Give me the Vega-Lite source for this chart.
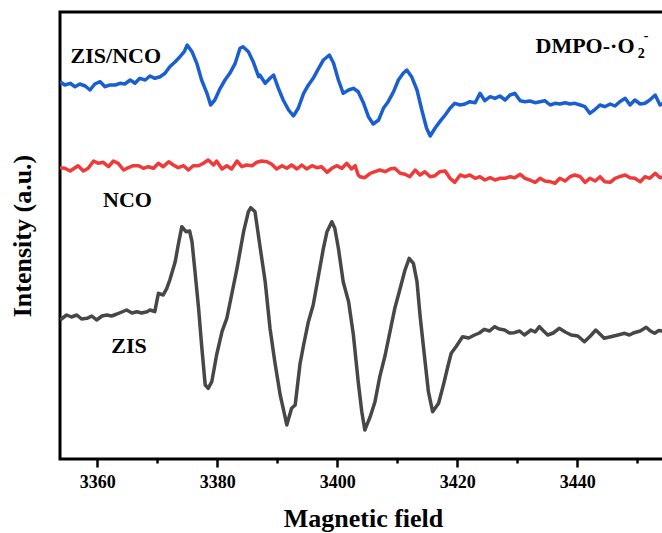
{
  "$schema": "https://vega.github.io/schema/vega-lite/v6.json",
  "width": 606,
  "height": 447,
  "autosize": {"type": "none"},
  "padding": {"left": 60, "top": 12, "right": 0, "bottom": 74},
  "config": {"view": {"stroke": "#000", "strokeWidth": 3}, "font": "Liberation Serif"},
  "datasets": {
    "curves": [
      {"sample":"ZIS/NCO","field":3353.8,"intensity":376.3},{"sample":"ZIS/NCO","field":3354.6,"intensity":373},{"sample":"ZIS/NCO","field":3355.5,"intensity":374.7},{"sample":"ZIS/NCO","field":3356.3,"intensity":371.3},{"sample":"ZIS/NCO","field":3357.1,"intensity":374},{"sample":"ZIS/NCO","field":3358.0,"intensity":372},{"sample":"ZIS/NCO","field":3358.8,"intensity":368},{"sample":"ZIS/NCO","field":3359.6,"intensity":374},{"sample":"ZIS/NCO","field":3360.5,"intensity":376.3},{"sample":"ZIS/NCO","field":3361.3,"intensity":371.3},{"sample":"ZIS/NCO","field":3362.1,"intensity":373},{"sample":"ZIS/NCO","field":3363.0,"intensity":373},{"sample":"ZIS/NCO","field":3363.8,"intensity":374.7},{"sample":"ZIS/NCO","field":3364.6,"intensity":374},{"sample":"ZIS/NCO","field":3365.5,"intensity":378},{"sample":"ZIS/NCO","field":3366.3,"intensity":374.7},{"sample":"ZIS/NCO","field":3367.1,"intensity":379.7},{"sample":"ZIS/NCO","field":3368.0,"intensity":378},{"sample":"ZIS/NCO","field":3368.8,"intensity":382},{"sample":"ZIS/NCO","field":3369.6,"intensity":379.7},{"sample":"ZIS/NCO","field":3370.5,"intensity":381.3},{"sample":"ZIS/NCO","field":3371.3,"intensity":384.7},{"sample":"ZIS/NCO","field":3372.1,"intensity":391.3},{"sample":"ZIS/NCO","field":3373.0,"intensity":396.3},{"sample":"ZIS/NCO","field":3373.8,"intensity":401.3},{"sample":"ZIS/NCO","field":3374.5,"intensity":406.3},{"sample":"ZIS/NCO","field":3375.0,"intensity":413},{"sample":"ZIS/NCO","field":3375.8,"intensity":406.3},{"sample":"ZIS/NCO","field":3376.6,"intensity":394.7},{"sample":"ZIS/NCO","field":3377.4,"intensity":378},{"sample":"ZIS/NCO","field":3378.3,"intensity":364.7},{"sample":"ZIS/NCO","field":3378.9,"intensity":353},{"sample":"ZIS/NCO","field":3379.6,"intensity":358},{"sample":"ZIS/NCO","field":3380.5,"intensity":369.7},{"sample":"ZIS/NCO","field":3381.3,"intensity":378},{"sample":"ZIS/NCO","field":3382.1,"intensity":384.7},{"sample":"ZIS/NCO","field":3383.0,"intensity":394.7},{"sample":"ZIS/NCO","field":3383.8,"intensity":409.7},{"sample":"ZIS/NCO","field":3384.3,"intensity":411.3},{"sample":"ZIS/NCO","field":3385.2,"intensity":406.3},{"sample":"ZIS/NCO","field":3386.0,"intensity":396.3},{"sample":"ZIS/NCO","field":3386.9,"intensity":381.3},{"sample":"ZIS/NCO","field":3387.1,"intensity":383},{"sample":"ZIS/NCO","field":3388.0,"intensity":374.7},{"sample":"ZIS/NCO","field":3388.8,"intensity":379.7},{"sample":"ZIS/NCO","field":3389.4,"intensity":383},{"sample":"ZIS/NCO","field":3390.2,"intensity":369.7},{"sample":"ZIS/NCO","field":3391.0,"intensity":358},{"sample":"ZIS/NCO","field":3391.9,"intensity":348},{"sample":"ZIS/NCO","field":3392.7,"intensity":342},{"sample":"ZIS/NCO","field":3393.5,"intensity":349.7},{"sample":"ZIS/NCO","field":3394.4,"intensity":364.7},{"sample":"ZIS/NCO","field":3395.2,"intensity":373},{"sample":"ZIS/NCO","field":3396.0,"intensity":379.7},{"sample":"ZIS/NCO","field":3396.9,"intensity":389.7},{"sample":"ZIS/NCO","field":3397.7,"intensity":398},{"sample":"ZIS/NCO","field":3398.7,"intensity":403},{"sample":"ZIS/NCO","field":3399.4,"intensity":394.7},{"sample":"ZIS/NCO","field":3400.2,"intensity":378},{"sample":"ZIS/NCO","field":3401.0,"intensity":364.7},{"sample":"ZIS/NCO","field":3401.9,"intensity":368},{"sample":"ZIS/NCO","field":3402.7,"intensity":369.7},{"sample":"ZIS/NCO","field":3403.5,"intensity":366.3},{"sample":"ZIS/NCO","field":3404.4,"intensity":354.7},{"sample":"ZIS/NCO","field":3405.2,"intensity":341.3},{"sample":"ZIS/NCO","field":3406.0,"intensity":334},{"sample":"ZIS/NCO","field":3406.9,"intensity":338},{"sample":"ZIS/NCO","field":3407.7,"intensity":349.7},{"sample":"ZIS/NCO","field":3408.5,"intensity":356.3},{"sample":"ZIS/NCO","field":3409.4,"intensity":366.3},{"sample":"ZIS/NCO","field":3410.2,"intensity":378},{"sample":"ZIS/NCO","field":3411.0,"intensity":384.7},{"sample":"ZIS/NCO","field":3411.6,"intensity":388},{"sample":"ZIS/NCO","field":3412.4,"intensity":381.3},{"sample":"ZIS/NCO","field":3413.3,"intensity":368},{"sample":"ZIS/NCO","field":3414.1,"intensity":348},{"sample":"ZIS/NCO","field":3414.9,"intensity":329.7},{"sample":"ZIS/NCO","field":3415.5,"intensity":322},{"sample":"ZIS/NCO","field":3416.3,"intensity":329.7},{"sample":"ZIS/NCO","field":3417.1,"intensity":336.3},{"sample":"ZIS/NCO","field":3418.0,"intensity":343},{"sample":"ZIS/NCO","field":3418.8,"intensity":349.7},{"sample":"ZIS/NCO","field":3419.6,"intensity":354.7},{"sample":"ZIS/NCO","field":3420.5,"intensity":353},{"sample":"ZIS/NCO","field":3421.3,"intensity":354},{"sample":"ZIS/NCO","field":3422.1,"intensity":356.3},{"sample":"ZIS/NCO","field":3423.0,"intensity":355.3},{"sample":"ZIS/NCO","field":3423.8,"intensity":364.7},{"sample":"ZIS/NCO","field":3424.6,"intensity":357.3},{"sample":"ZIS/NCO","field":3425.5,"intensity":361.3},{"sample":"ZIS/NCO","field":3426.3,"intensity":359.7},{"sample":"ZIS/NCO","field":3427.1,"intensity":362},{"sample":"ZIS/NCO","field":3428.0,"intensity":358},{"sample":"ZIS/NCO","field":3428.8,"intensity":363},{"sample":"ZIS/NCO","field":3429.6,"intensity":364.7},{"sample":"ZIS/NCO","field":3430.5,"intensity":357.3},{"sample":"ZIS/NCO","field":3431.3,"intensity":356.3},{"sample":"ZIS/NCO","field":3432.1,"intensity":357},{"sample":"ZIS/NCO","field":3433.0,"intensity":355.3},{"sample":"ZIS/NCO","field":3433.8,"intensity":356.3},{"sample":"ZIS/NCO","field":3434.6,"intensity":357.3},{"sample":"ZIS/NCO","field":3435.5,"intensity":353},{"sample":"ZIS/NCO","field":3436.3,"intensity":354.7},{"sample":"ZIS/NCO","field":3437.1,"intensity":354},{"sample":"ZIS/NCO","field":3438.0,"intensity":355.3},{"sample":"ZIS/NCO","field":3438.8,"intensity":354},{"sample":"ZIS/NCO","field":3439.6,"intensity":354.7},{"sample":"ZIS/NCO","field":3440.5,"intensity":353},{"sample":"ZIS/NCO","field":3441.3,"intensity":351.3},{"sample":"ZIS/NCO","field":3442.1,"intensity":344.7},{"sample":"ZIS/NCO","field":3443.0,"intensity":348.7},{"sample":"ZIS/NCO","field":3443.8,"intensity":353},{"sample":"ZIS/NCO","field":3444.6,"intensity":351.3},{"sample":"ZIS/NCO","field":3445.5,"intensity":354},{"sample":"ZIS/NCO","field":3446.3,"intensity":352},{"sample":"ZIS/NCO","field":3447.1,"intensity":356.3},{"sample":"ZIS/NCO","field":3448.0,"intensity":359.7},{"sample":"ZIS/NCO","field":3448.8,"intensity":353},{"sample":"ZIS/NCO","field":3449.6,"intensity":358},{"sample":"ZIS/NCO","field":3450.5,"intensity":354},{"sample":"ZIS/NCO","field":3451.3,"intensity":354.7},{"sample":"ZIS/NCO","field":3452.1,"intensity":358},{"sample":"ZIS/NCO","field":3453.0,"intensity":363},{"sample":"ZIS/NCO","field":3453.8,"intensity":353},{"sample":"ZIS/NCO","field":3454.8,"intensity":356},
      {"sample":"NCO","field":3353.8,"intensity":290.3},{"sample":"NCO","field":3354.6,"intensity":289.7},{"sample":"NCO","field":3355.5,"intensity":287},{"sample":"NCO","field":3356.3,"intensity":290.3},{"sample":"NCO","field":3356.8,"intensity":292.3},{"sample":"NCO","field":3357.7,"intensity":287},{"sample":"NCO","field":3358.5,"intensity":289.7},{"sample":"NCO","field":3359.4,"intensity":297},{"sample":"NCO","field":3360.2,"intensity":294.7},{"sample":"NCO","field":3361.0,"intensity":295.7},{"sample":"NCO","field":3361.9,"intensity":291.3},{"sample":"NCO","field":3362.7,"intensity":297},{"sample":"NCO","field":3363.5,"intensity":294.7},{"sample":"NCO","field":3364.4,"intensity":288},{"sample":"NCO","field":3365.2,"intensity":290.3},{"sample":"NCO","field":3366.0,"intensity":292.3},{"sample":"NCO","field":3366.9,"intensity":292.3},{"sample":"NCO","field":3367.7,"intensity":289.7},{"sample":"NCO","field":3368.5,"intensity":291.3},{"sample":"NCO","field":3369.4,"intensity":289.7},{"sample":"NCO","field":3370.2,"intensity":294.7},{"sample":"NCO","field":3371.0,"intensity":291.3},{"sample":"NCO","field":3371.9,"intensity":296.3},{"sample":"NCO","field":3372.7,"intensity":293},{"sample":"NCO","field":3373.5,"intensity":290.3},{"sample":"NCO","field":3374.4,"intensity":292.3},{"sample":"NCO","field":3375.2,"intensity":288},{"sample":"NCO","field":3376.0,"intensity":292.3},{"sample":"NCO","field":3376.9,"intensity":292.3},{"sample":"NCO","field":3377.7,"intensity":294.7},{"sample":"NCO","field":3378.5,"intensity":298},{"sample":"NCO","field":3379.4,"intensity":293},{"sample":"NCO","field":3379.9,"intensity":297},{"sample":"NCO","field":3380.8,"intensity":289},{"sample":"NCO","field":3381.6,"intensity":292.3},{"sample":"NCO","field":3382.4,"intensity":289},{"sample":"NCO","field":3383.3,"intensity":297},{"sample":"NCO","field":3384.1,"intensity":291.3},{"sample":"NCO","field":3384.9,"intensity":293},{"sample":"NCO","field":3385.8,"intensity":292.3},{"sample":"NCO","field":3386.6,"intensity":295.7},{"sample":"NCO","field":3387.4,"intensity":297},{"sample":"NCO","field":3388.3,"intensity":296.3},{"sample":"NCO","field":3389.1,"intensity":293.7},{"sample":"NCO","field":3389.9,"intensity":289},{"sample":"NCO","field":3390.8,"intensity":292.3},{"sample":"NCO","field":3391.6,"intensity":289.7},{"sample":"NCO","field":3392.4,"intensity":293},{"sample":"NCO","field":3393.3,"intensity":289},{"sample":"NCO","field":3394.1,"intensity":293},{"sample":"NCO","field":3394.9,"intensity":289},{"sample":"NCO","field":3395.8,"intensity":292.3},{"sample":"NCO","field":3396.6,"intensity":290.3},{"sample":"NCO","field":3397.4,"intensity":291.3},{"sample":"NCO","field":3398.3,"intensity":285.7},{"sample":"NCO","field":3399.1,"intensity":289.7},{"sample":"NCO","field":3399.9,"intensity":292.3},{"sample":"NCO","field":3400.8,"intensity":289.7},{"sample":"NCO","field":3401.6,"intensity":294.7},{"sample":"NCO","field":3402.4,"intensity":289},{"sample":"NCO","field":3403.0,"intensity":292.3},{"sample":"NCO","field":3403.5,"intensity":283},{"sample":"NCO","field":3403.8,"intensity":281.3},{"sample":"NCO","field":3404.6,"intensity":280.3},{"sample":"NCO","field":3405.5,"intensity":284.7},{"sample":"NCO","field":3406.3,"intensity":286.3},{"sample":"NCO","field":3407.1,"intensity":288},{"sample":"NCO","field":3408.0,"intensity":286.3},{"sample":"NCO","field":3408.8,"intensity":289},{"sample":"NCO","field":3409.6,"intensity":289.7},{"sample":"NCO","field":3410.5,"intensity":284.7},{"sample":"NCO","field":3411.3,"intensity":283.7},{"sample":"NCO","field":3412.1,"intensity":281.3},{"sample":"NCO","field":3413.0,"intensity":288},{"sample":"NCO","field":3413.8,"intensity":283},{"sample":"NCO","field":3414.6,"intensity":286.3},{"sample":"NCO","field":3415.5,"intensity":281.3},{"sample":"NCO","field":3416.3,"intensity":282.3},{"sample":"NCO","field":3417.1,"intensity":286.3},{"sample":"NCO","field":3418.0,"intensity":287},{"sample":"NCO","field":3418.8,"intensity":279.7},{"sample":"NCO","field":3419.6,"intensity":275.7},{"sample":"NCO","field":3420.5,"intensity":283},{"sample":"NCO","field":3421.3,"intensity":281.3},{"sample":"NCO","field":3422.1,"intensity":283},{"sample":"NCO","field":3423.0,"intensity":279.7},{"sample":"NCO","field":3423.8,"intensity":281.3},{"sample":"NCO","field":3424.6,"intensity":278},{"sample":"NCO","field":3425.5,"intensity":280.3},{"sample":"NCO","field":3426.3,"intensity":278},{"sample":"NCO","field":3427.1,"intensity":279.7},{"sample":"NCO","field":3428.0,"intensity":279.7},{"sample":"NCO","field":3428.8,"intensity":281.3},{"sample":"NCO","field":3429.6,"intensity":280.3},{"sample":"NCO","field":3430.5,"intensity":283.7},{"sample":"NCO","field":3431.3,"intensity":279.7},{"sample":"NCO","field":3432.1,"intensity":278},{"sample":"NCO","field":3433.0,"intensity":275.7},{"sample":"NCO","field":3433.8,"intensity":279.7},{"sample":"NCO","field":3434.6,"intensity":277},{"sample":"NCO","field":3435.5,"intensity":276.3},{"sample":"NCO","field":3436.3,"intensity":274.7},{"sample":"NCO","field":3437.1,"intensity":279.7},{"sample":"NCO","field":3438.0,"intensity":277},{"sample":"NCO","field":3438.8,"intensity":281.3},{"sample":"NCO","field":3439.6,"intensity":283},{"sample":"NCO","field":3440.5,"intensity":281.3},{"sample":"NCO","field":3441.3,"intensity":275.7},{"sample":"NCO","field":3442.1,"intensity":279.7},{"sample":"NCO","field":3443.0,"intensity":277},{"sample":"NCO","field":3443.8,"intensity":281.3},{"sample":"NCO","field":3444.6,"intensity":276.3},{"sample":"NCO","field":3445.5,"intensity":275.7},{"sample":"NCO","field":3446.3,"intensity":279.7},{"sample":"NCO","field":3447.1,"intensity":281.3},{"sample":"NCO","field":3448.0,"intensity":283},{"sample":"NCO","field":3448.8,"intensity":280.3},{"sample":"NCO","field":3449.6,"intensity":279.7},{"sample":"NCO","field":3450.5,"intensity":276.3},{"sample":"NCO","field":3451.3,"intensity":281.3},{"sample":"NCO","field":3452.1,"intensity":279.7},{"sample":"NCO","field":3453.0,"intensity":284.7},{"sample":"NCO","field":3453.8,"intensity":280.3},{"sample":"NCO","field":3454.8,"intensity":282},
      {"sample":"ZIS","field":3353.8,"intensity":138},{"sample":"ZIS","field":3354.9,"intensity":143},{"sample":"ZIS","field":3355.7,"intensity":141},{"sample":"ZIS","field":3356.6,"intensity":143},{"sample":"ZIS","field":3357.4,"intensity":139},{"sample":"ZIS","field":3358.3,"intensity":139.7},{"sample":"ZIS","field":3359.1,"intensity":142},{"sample":"ZIS","field":3359.9,"intensity":138},{"sample":"ZIS","field":3360.8,"intensity":142},{"sample":"ZIS","field":3361.6,"intensity":143},{"sample":"ZIS","field":3362.4,"intensity":142},{"sample":"ZIS","field":3363.3,"intensity":144},{"sample":"ZIS","field":3364.1,"intensity":146},{"sample":"ZIS","field":3364.9,"intensity":148},{"sample":"ZIS","field":3365.8,"intensity":145},{"sample":"ZIS","field":3366.6,"intensity":146.3},{"sample":"ZIS","field":3367.4,"intensity":145},{"sample":"ZIS","field":3368.3,"intensity":146.3},{"sample":"ZIS","field":3368.8,"intensity":148},{"sample":"ZIS","field":3369.6,"intensity":146.3},{"sample":"ZIS","field":3370.2,"intensity":164.7},{"sample":"ZIS","field":3371.0,"intensity":163},{"sample":"ZIS","field":3371.6,"intensity":169.7},{"sample":"ZIS","field":3372.1,"intensity":178},{"sample":"ZIS","field":3373.0,"intensity":196.3},{"sample":"ZIS","field":3373.5,"intensity":213},{"sample":"ZIS","field":3374.1,"intensity":231.3},{"sample":"ZIS","field":3374.8,"intensity":226.3},{"sample":"ZIS","field":3375.4,"intensity":227},{"sample":"ZIS","field":3375.8,"intensity":216.3},{"sample":"ZIS","field":3376.3,"intensity":186.3},{"sample":"ZIS","field":3376.9,"intensity":149.7},{"sample":"ZIS","field":3377.4,"intensity":113},{"sample":"ZIS","field":3378.0,"intensity":73},{"sample":"ZIS","field":3378.5,"intensity":69.7},{"sample":"ZIS","field":3379.1,"intensity":76.3},{"sample":"ZIS","field":3379.9,"intensity":103},{"sample":"ZIS","field":3380.8,"intensity":126.3},{"sample":"ZIS","field":3381.6,"intensity":139.7},{"sample":"ZIS","field":3382.4,"intensity":163},{"sample":"ZIS","field":3383.3,"intensity":189.7},{"sample":"ZIS","field":3383.8,"intensity":206.3},{"sample":"ZIS","field":3384.4,"intensity":226.3},{"sample":"ZIS","field":3385.2,"intensity":246.3},{"sample":"ZIS","field":3385.6,"intensity":250.3},{"sample":"ZIS","field":3386.3,"intensity":246.3},{"sample":"ZIS","field":3387.1,"intensity":213},{"sample":"ZIS","field":3388.0,"intensity":176.3},{"sample":"ZIS","field":3388.8,"intensity":129.7},{"sample":"ZIS","field":3389.6,"intensity":96.3},{"sample":"ZIS","field":3390.5,"intensity":63},{"sample":"ZIS","field":3391.0,"intensity":49.7},{"sample":"ZIS","field":3391.6,"intensity":33},{"sample":"ZIS","field":3392.4,"intensity":49.7},{"sample":"ZIS","field":3393.0,"intensity":53},{"sample":"ZIS","field":3393.8,"intensity":94},{"sample":"ZIS","field":3394.4,"intensity":113},{"sample":"ZIS","field":3395.2,"intensity":136.3},{"sample":"ZIS","field":3396.0,"intensity":153},{"sample":"ZIS","field":3396.9,"intensity":183},{"sample":"ZIS","field":3397.7,"intensity":209.7},{"sample":"ZIS","field":3398.3,"intensity":226.3},{"sample":"ZIS","field":3399.1,"intensity":236.3},{"sample":"ZIS","field":3399.6,"intensity":229.7},{"sample":"ZIS","field":3400.2,"intensity":209.7},{"sample":"ZIS","field":3401.0,"intensity":176.3},{"sample":"ZIS","field":3401.9,"intensity":156.3},{"sample":"ZIS","field":3402.7,"intensity":123},{"sample":"ZIS","field":3403.5,"intensity":76.3},{"sample":"ZIS","field":3404.1,"intensity":46.3},{"sample":"ZIS","field":3404.6,"intensity":28},{"sample":"ZIS","field":3405.5,"intensity":41.3},{"sample":"ZIS","field":3406.3,"intensity":56.3},{"sample":"ZIS","field":3407.1,"intensity":81.3},{"sample":"ZIS","field":3408.0,"intensity":103},{"sample":"ZIS","field":3408.8,"intensity":126.3},{"sample":"ZIS","field":3409.6,"intensity":149.7},{"sample":"ZIS","field":3410.5,"intensity":169.7},{"sample":"ZIS","field":3411.3,"intensity":188},{"sample":"ZIS","field":3412.0,"intensity":199.7},{"sample":"ZIS","field":3412.7,"intensity":194.7},{"sample":"ZIS","field":3413.3,"intensity":176.3},{"sample":"ZIS","field":3413.8,"intensity":143},{"sample":"ZIS","field":3414.4,"intensity":109.7},{"sample":"ZIS","field":3415.2,"intensity":66.3},{"sample":"ZIS","field":3415.9,"intensity":46.3},{"sample":"ZIS","field":3416.9,"intensity":54.7},{"sample":"ZIS","field":3417.7,"intensity":73},{"sample":"ZIS","field":3418.5,"intensity":93},{"sample":"ZIS","field":3419.0,"intensity":104.7},{"sample":"ZIS","field":3419.8,"intensity":111.3},{"sample":"ZIS","field":3420.9,"intensity":121.3},{"sample":"ZIS","field":3421.9,"intensity":120},{"sample":"ZIS","field":3422.9,"intensity":123},{"sample":"ZIS","field":3423.7,"intensity":125},{"sample":"ZIS","field":3424.5,"intensity":128.7},{"sample":"ZIS","field":3425.4,"intensity":127},{"sample":"ZIS","field":3426.2,"intensity":131.3},{"sample":"ZIS","field":3427.0,"intensity":129},{"sample":"ZIS","field":3427.9,"intensity":128},{"sample":"ZIS","field":3428.7,"intensity":125},{"sample":"ZIS","field":3429.5,"intensity":125.3},{"sample":"ZIS","field":3430.4,"intensity":127},{"sample":"ZIS","field":3431.2,"intensity":123},{"sample":"ZIS","field":3432.3,"intensity":128},{"sample":"ZIS","field":3433.0,"intensity":126},{"sample":"ZIS","field":3433.7,"intensity":131.3},{"sample":"ZIS","field":3434.4,"intensity":127},{"sample":"ZIS","field":3435.1,"intensity":123},{"sample":"ZIS","field":3436.0,"intensity":125},{"sample":"ZIS","field":3437.0,"intensity":129.7},{"sample":"ZIS","field":3438.0,"intensity":126},{"sample":"ZIS","field":3439.0,"intensity":123},{"sample":"ZIS","field":3440.1,"intensity":122},{"sample":"ZIS","field":3441.2,"intensity":116.3},{"sample":"ZIS","field":3442.2,"intensity":122},{"sample":"ZIS","field":3443.1,"intensity":128},{"sample":"ZIS","field":3444.5,"intensity":119.7},{"sample":"ZIS","field":3445.6,"intensity":121.3},{"sample":"ZIS","field":3446.8,"intensity":123},{"sample":"ZIS","field":3447.9,"intensity":124.7},{"sample":"ZIS","field":3448.7,"intensity":123},{"sample":"ZIS","field":3449.5,"intensity":125.3},{"sample":"ZIS","field":3450.5,"intensity":127},{"sample":"ZIS","field":3451.5,"intensity":130.7},{"sample":"ZIS","field":3452.2,"intensity":127},{"sample":"ZIS","field":3452.9,"intensity":124.7},{"sample":"ZIS","field":3453.6,"intensity":127.5},{"sample":"ZIS","field":3454.8,"intensity":126.3}
    ],
    "labels": [
      {"label":"ZIS/NCO","field":3363.1,"intensity":394.7,"kind":"main"},
      {"label":"NCO","field":3365.05,"intensity":251.3,"kind":"main"},
      {"label":"ZIS","field":3365.3,"intensity":104.7,"kind":"main"},
      {"label":"DMPO-·O","field":3441.3,"intensity":404.7,"kind":"main"},
      {"label":"2","field":3450.1,"intensity":399.7,"kind":"small"},
      {"label":"-","field":3451.1,"intensity":418,"kind":"small"}
    ]
  },
  "layer": [
    {
      "data": {"name": "curves"},
      "mark": {"type": "line", "strokeWidth": 3.5, "clip": true, "strokeJoin": "round"},
      "encoding": {
        "x": {
          "field": "field", "type": "quantitative",
          "scale": {"domain": [3353.8, 3454.8], "nice": false, "zero": false},
          "axis": {
            "title": "Magnetic field", "titleFontSize": 26, "titleFontWeight": "bold", "titleFont": "Liberation Serif", "titleColor": "#000", "titlePadding": 14,
            "values": [3360, 3370, 3380, 3390, 3400, 3410, 3420, 3430, 3440, 3450],
            "labelExpr": "datum.value % 20 == 0 ? datum.label : ''",
            "format": "d",
            "labelFont": "Liberation Serif", "labelFontSize": 18, "labelFontWeight": "bold", "labelColor": "#000", "labelPadding": 6,
            "tickColor": "#000", "tickWidth": 2.5,
            "tickSize": {"condition": {"test": "datum.value % 20 == 0", "value": 8}, "value": 4},
            "domain": false, "grid": false
          }
        },
        "y": {
          "field": "intensity", "type": "quantitative",
          "scale": {"domain": [-1, 446], "nice": false, "zero": false},
          "axis": {
            "title": "Intensity (a.u.)", "titleFontSize": 26, "titleFontWeight": "bold", "titleFont": "Liberation Serif", "titleColor": "#000", "titlePadding": 25,
            "labels": false, "ticks": false, "domain": false, "grid": false
          }
        },
        "color": {
          "field": "sample", "type": "nominal",
          "scale": {"domain": ["ZIS/NCO", "NCO", "ZIS"], "range": ["#1a5fd0", "#f03a3a", "#474747"]},
          "legend": null
        }
      }
    },
    {
      "data": {"name": "labels"},
      "transform": [{"filter": "datum.kind == 'main'"}],
      "mark": {"type": "text", "font": "Liberation Serif", "fontWeight": "bold", "fontSize": 22, "align": "center", "baseline": "alphabetic", "color": "#000"},
      "encoding": {
        "x": {"field": "field", "type": "quantitative"},
        "y": {"field": "intensity", "type": "quantitative"},
        "text": {"field": "label"}
      }
    },
    {
      "data": {"name": "labels"},
      "transform": [{"filter": "datum.kind == 'small'"}],
      "mark": {"type": "text", "font": "Liberation Serif", "fontWeight": "bold", "fontSize": 14, "align": "left", "baseline": "alphabetic", "color": "#000"},
      "encoding": {
        "x": {"field": "field", "type": "quantitative"},
        "y": {"field": "intensity", "type": "quantitative"},
        "text": {"field": "label"}
      }
    }
  ]
}
